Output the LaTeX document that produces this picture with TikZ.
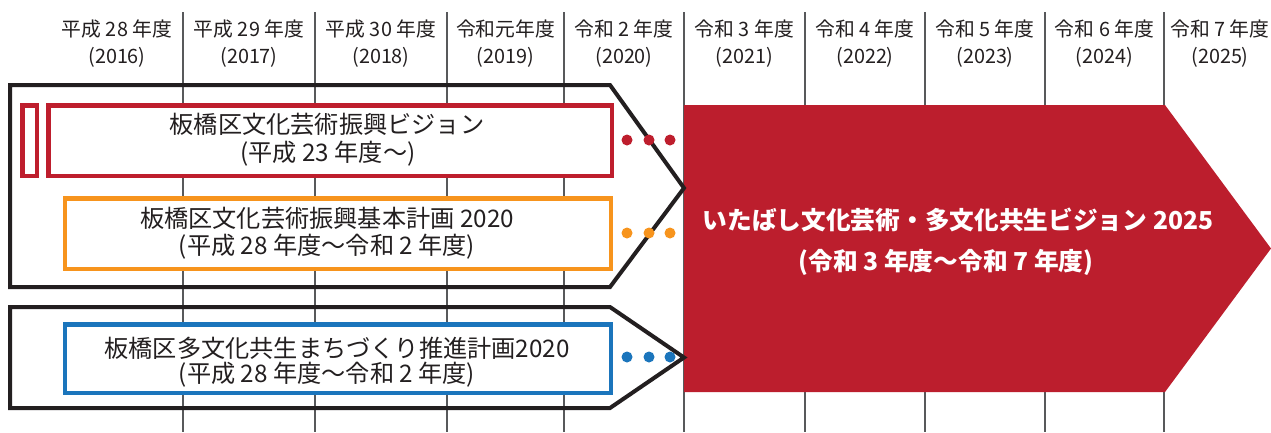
\documentclass[tikz,border=0pt]{standalone}
\usepackage{fontspec}
\setmainfont{Noto Sans CJK JP}
\definecolor{ink}{HTML}{231F20}
\definecolor{gridc}{HTML}{58595B}
\definecolor{vred}{HTML}{BE1E2D}
\definecolor{vorange}{HTML}{F7941D}
\definecolor{vblue}{HTML}{1B75BC}
\definecolor{arrowred}{HTML}{BC1E2D}
\begin{document}
\begin{tikzpicture}[x=1pt,y=-1pt,
  hdr/.style={font=\fontsize{19.8}{21}\selectfont, text=ink, inner sep=0pt},
  btxt/.style={font=\fontsize{24.2}{28}\selectfont, text=ink, inner sep=0pt},
  wtxt/.style={font=\fontsize{24.7}{28}\selectfont\bfseries, text=white, inner sep=0pt},
  gridline/.style={draw=gridc, line width=1.1pt},
  outline/.style={draw=ink, line width=4pt, line join=miter},
  plan/.style={draw, fill=white, line width=4.5pt, inner sep=0pt},
  dotc/.style={inner sep=0pt, minimum size=11pt, circle}
]
\useasboundingbox (0,0) rectangle (1271,432);
\fill[white] (0,0) rectangle (1271,432);

% grid lines
\foreach \x [count=\i] in {183,315,447,564,684,805,925,1045,1164}{
  \coordinate (gt\i) at (\x,12);
  \coordinate (gb\i) at (\x,432);
  \draw[gridline] (gt\i) -- (gb\i);
}

% header labels
\foreach \x/\a/\b [count=\i] in {117/{平成 28 年度}/{(2016)},249/{平成 29 年度}/{(2017)},381/{平成 30 年度}/{(2018)},505.5/{令和元年度}/{(2019)},624/{令和 2 年度}/{(2020)},744.5/{令和 3 年度}/{(2021)},865/{令和 4 年度}/{(2022)},985/{令和 5 年度}/{(2023)},1104.5/{令和 6 年度}/{(2024)},1220/{令和 7 年度}/{(2025)}}{
  \node[hdr] (ha\i) at (\x,29) {\a};
  \node[hdr] (hb\i) at (\x,57) {\b};
}

% big red arrow
\fill[arrowred] (684,105) -- (1165,105) -- (1271,248.5) -- (1165,392) -- (684,392) -- cycle;

% black outline arrows
\draw[outline] (10,85) -- (610,85) -- (684,188) -- (610,287) -- (10,287) -- cycle;
\draw[outline] (10,307) -- (610,307) -- (684,357.5) -- (610,408) -- (10,408) -- cycle;

% plan boxes
\node[plan, draw=vred, minimum width=14.5pt, minimum height=70.5pt] (vsmall) at (29.5,140.5) {};
\node[plan, draw=vred, minimum width=563.5pt, minimum height=70.5pt] (vision) at (330,140.5) {};
\node[plan, draw=vorange, minimum width=546pt, minimum height=70.5pt] (basic) at (337.75,233.5) {};
\node[plan, draw=vblue, minimum width=546pt, minimum height=68.5pt] (multi) at (337.75,358.5) {};

% dots
\foreach \x [count=\i] in {627,649,670}{
  \node[dotc, fill=vred] (rd\i) at (\x,140) {};
  \node[dotc, fill=vorange] (od\i) at (\x,233) {};
  \node[dotc, fill=vblue] (bd\i) at (\x,357) {};
}

% texts
\node[btxt] (vt1) at (327,124) {板橋区文化芸術振興ビジョン};
\node[btxt] (vt2) at (328,154) {(平成 23 年度～)};
\node[btxt] (bt1) at (327,218) {板橋区文化芸術振興基本計画 2020};
\node[btxt] (bt2) at (327,247) {(平成 28 年度～令和 2 年度)};
\node[btxt] (mt1) at (337,348) {板橋区多文化共生まちづくり推進計画2020};
\node[btxt] (mt2) at (327,375) {(平成 28 年度～令和 2 年度)};
\node[wtxt] (wt1) at (958,220) {いたばし文化芸術・多文化共生ビジョン 2025};
\node[wtxt] (wt2) at (946,262) {(令和 3 年度～令和 7 年度)};
\end{tikzpicture}
\end{document}
